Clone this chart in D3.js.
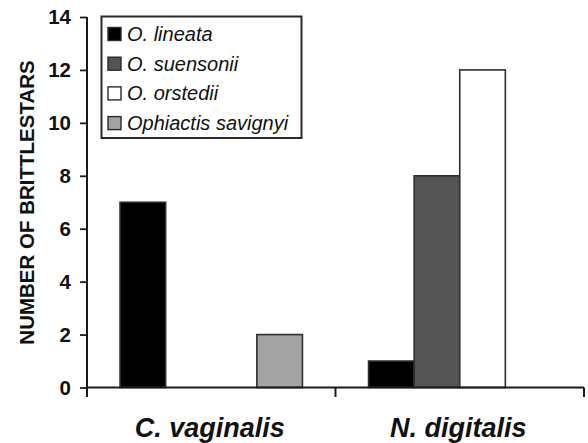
<!DOCTYPE html>
<html>
<head>
<meta charset="utf-8">
<script src="https://cdn.jsdelivr.net/npm/d3@7"></script>
<style>
  html, body { margin: 0; padding: 0; background: #fff; }
  svg { display: block; }
  text { font-family: Arial, "Liberation Sans", Helvetica, sans-serif; fill: #111; }
</style>
</head>
<body>
<script>
// Host plants (x categories) and brittlestar species (series)
const hosts = ["C. vaginalis", "N. digitalis"];
const species = ["O. lineata", "O. suensonii", "O. orstedii", "Ophiactis savignyi"];
const speciesColors = ["#000000", "#545454", "#ffffff", "#a3a3a3"];

// Counts per species, ordered as in `hosts`
const lineata = [7, 1];
const suensonii = [0, 8];
const orstedii = [0, 12];
const savignyi = [2, 0];

const yTicks = [0, 2, 4, 6, 8, 10, 12, 14];
const yTitle = "NUMBER OF BRITTLESTARS";

const seriesValues = [lineata, suensonii, orstedii, savignyi];

const W = 588, H = 443;
const margin = { left: 87, right: 4, top: 17, bottom: 55.5 };
const plotW = W - margin.left - margin.right;   // 497
const plotH = H - margin.top - margin.bottom;   // ~370.5

const svg = d3.select("body").append("svg")
  .attr("width", W).attr("height", H);

const g = svg.append("g")
  .attr("transform", `translate(${margin.left},${margin.top})`);

const x0 = d3.scaleBand().domain(hosts).range([0, plotW]).padding(0);
const x1 = d3.scaleBand().domain(species).range([0, x0.bandwidth()])
  .paddingInner(0).paddingOuter(0.725);
const y = d3.scaleLinear().domain([0, 14]).range([plotH, 0]);
const color = d3.scaleOrdinal().domain(species).range(speciesColors);

// Bars
const rows = [];
hosts.forEach((h, i) => species.forEach((s, j) => rows.push({ host: h, sp: s, v: seriesValues[j][i] })));

g.selectAll("rect.bar")
  .data(rows.filter(d => d.v > 0))
  .join("rect")
  .attr("class", "bar")
  .attr("x", d => x0(d.host) + x1(d.sp))
  .attr("width", x1.bandwidth())
  .attr("y", d => y(d.v))
  .attr("height", d => y(0) - y(d.v))
  .attr("fill", d => color(d.sp))
  .attr("stroke", "#2e2e2e")
  .attr("stroke-width", 1.6);

// Y axis
const yAxis = g.append("g")
  .call(d3.axisLeft(y).tickValues(yTicks).tickSize(7).tickSizeOuter(0).tickPadding(9));
yAxis.select(".domain").remove();
yAxis.selectAll(".tick line").attr("stroke", "#1a1a1a").attr("stroke-width", 1.8);
yAxis.selectAll(".tick text")
  .attr("font-size", 20.5).attr("font-weight", "bold").attr("fill", "#111")
  .attr("font-family", "Arial, 'Liberation Sans', sans-serif");

g.append("line")
  .attr("x1", 0).attr("x2", 0).attr("y1", 0).attr("y2", plotH + 9.5)
  .attr("stroke", "#1a1a1a").attr("stroke-width", 2);

// X axis with separators between host categories
g.append("line")
  .attr("x1", 0).attr("x2", plotW).attr("y1", plotH).attr("y2", plotH)
  .attr("stroke", "#1a1a1a").attr("stroke-width", 2);
hosts.forEach(h => {
  const xe = x0(h) + x0.bandwidth();
  g.append("line")
    .attr("x1", xe).attr("x2", xe).attr("y1", plotH).attr("y2", plotH + 9.5)
    .attr("stroke", "#1a1a1a").attr("stroke-width", 2);
});

// Host labels
g.selectAll("text.host")
  .data(hosts)
  .join("text")
  .attr("class", "host")
  .attr("x", d => x0(d) + x0.bandwidth() / 2 - 1.5)
  .attr("y", 437 - margin.top)
  .attr("text-anchor", "middle")
  .attr("font-size", 27)
  .attr("font-weight", "bold")
  .attr("font-style", "italic")
  .text(d => d);

// Y axis title
svg.append("text")
  .attr("transform", `translate(33.5,${202.5}) rotate(-90)`)
  .attr("text-anchor", "middle")
  .attr("font-size", 20.5)
  .attr("font-weight", "bold")
  .text(yTitle);

// Legend
const legend = svg.append("g").attr("transform", "translate(101.5,16.5)");
legend.append("rect")
  .attr("width", 200).attr("height", 121.5)
  .attr("fill", "#fff").attr("stroke", "#2a2a2a").attr("stroke-width", 2);
const item = legend.selectAll("g.item")
  .data(species)
  .join("g")
  .attr("class", "item")
  .attr("transform", (d, i) => `translate(0,${17.5 + i * 29.7})`);
item.append("rect")
  .attr("x", 6.5).attr("y", -6.5).attr("width", 13).attr("height", 13)
  .attr("fill", d => color(d)).attr("stroke", "#2a2a2a").attr("stroke-width", 1.4);
item.append("text")
  .attr("x", 25.5).attr("y", 7)
  .attr("font-size", 20)
  .attr("font-style", "italic")
  .text(d => d);
</script>
</body>
</html>
